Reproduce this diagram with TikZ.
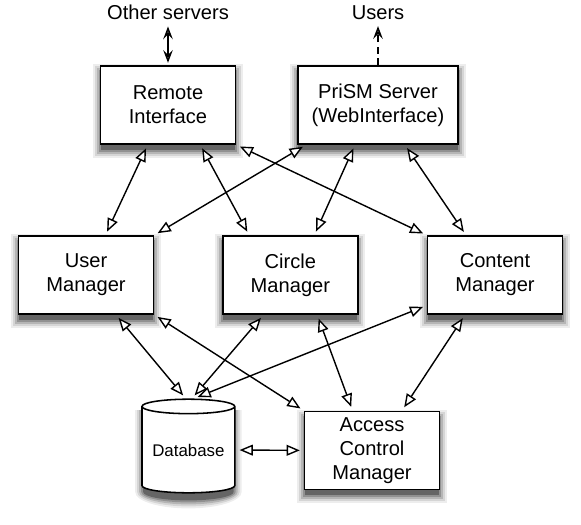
\documentclass[tikz,border=0pt]{standalone}
\usepackage{fontspec}
\setmainfont{Liberation Sans}
\usetikzlibrary{arrows.meta, backgrounds, calc, shapes.geometric}
\tikzset{
	modbox/.style={draw, line width=1.1pt, fill=white, minimum width=3.37cm, minimum height=1.95cm, align=center, font=\fontsize{14.3}{17}\selectfont, inner sep=0pt}
}
\tikzset{
	ctext/.style={font=\fontsize{14.3}{17}\selectfont, inner sep=0pt}
}
\tikzset{
	link/.style={line width=1pt, shorten >=0.1cm, shorten <=0.1cm, {Triangle[open, fill=white, length=0.33cm, width=0.27cm]}-{Triangle[open, fill=white, length=0.33cm, width=0.27cm]}}
}
\tikzset{
	ext/.style={line width=1.1pt, {Stealth[open, length=0.32cm, width=0.24cm, inset=0.12cm]}-{Stealth[open, length=0.32cm, width=0.24cm, inset=0.12cm]}}
}
\begin{document}
\begin{tikzpicture}
      \useasboundingbox (0,0) rectangle (14.525,13.1);
      \node[ctext] (other) at (4.2,12.78) {Other servers};
      \node[ctext] (users) at (9.45,12.78) {Users};
      \node[modbox] (rem) at (4.2,10.475) {Remote\\Interface};
      \node[modbox, minimum width=4cm] (prism) at (9.45,10.475) {PriSM Server\\(WebInterface)};
      \node[modbox] (usr) at (2.15,6.225) {User\\Manager};
      \node[modbox] (circ) at (7.26,6.225) {Circle\\Manager};
      \node[modbox] (cont) at (12.375,6.225) {Content\\Manager};
      \node[modbox] (acc) at (9.3,1.84) {Access\\Control\\Manager};
      \node[draw, line width=1.1pt, fill=white, cylinder, shape border rotate=90, shape aspect=0.2, minimum width=2.32cm, minimum height=2.34cm, inner sep=0pt, font=\fontsize{12}{14}\selectfont] (db) at (4.71,1.85) {\raisebox{-4pt}{Database}};
      \begin{scope}[on background layer]
        \foreach \n in {rem,prism,usr,circ,cont,acc} {
          \foreach \w/\o in {0.17/0.07, 0.12/0.1, 0.07/0.15, 0.02/0.2, -0.03/0.3}
            \fill[black, opacity=\o] ($(\n.south west)+({0-(\w)},{-0.15-(\w)})$) -- ($(\n.south east)+({\w},{-0.15-(\w)})$) -- ($(\n.north east)+({\w},{-0.15+\w})$) -- ($(\n.north west)+({0-(\w)},{-0.15+\w})$) -- cycle;
        }
        \foreach \w/\o in {0.17/0.07, 0.12/0.1, 0.07/0.15, 0.02/0.2, -0.03/0.3}
          \fill[black, opacity=\o] ([shift={({-1.16-(\w)},-1.05)}]db.center) arc[start angle=180, end angle=360, x radius=1.16+\w, y radius=0.24+\w] -- ([shift={({1.16+\w},1)}]db.center) -- ([shift={({-1.16-(\w)},1)}]db.center) -- cycle;
      \end{scope}
      \foreach \a/\b in {rem.-117/usr.64, rem.-51/circ.136, rem.south east/cont.north west,
        prism.-151/usr.north east, prism.-120/circ.59, prism.-56/cont.126,
        usr.-53/db.93, usr.south east/acc.north west, circ.-124/db.86,
        circ.-56/acc.116, cont.-156/db.84, cont.-127/acc.53, db.east/acc.west}
        \draw[link] (\a) -- (\b);
      \draw[ext] ([yshift=-0.15cm]other.south) -- ([yshift=0.06cm]rem.north);
      \draw[line width=1.1pt, dash pattern=on 0.17cm off 0.12cm, -{Stealth[open, length=0.32cm, width=0.24cm, inset=0.12cm]}] (prism.north) -- ([yshift=-0.15cm]users.south);
    \end{tikzpicture}
\end{document}
